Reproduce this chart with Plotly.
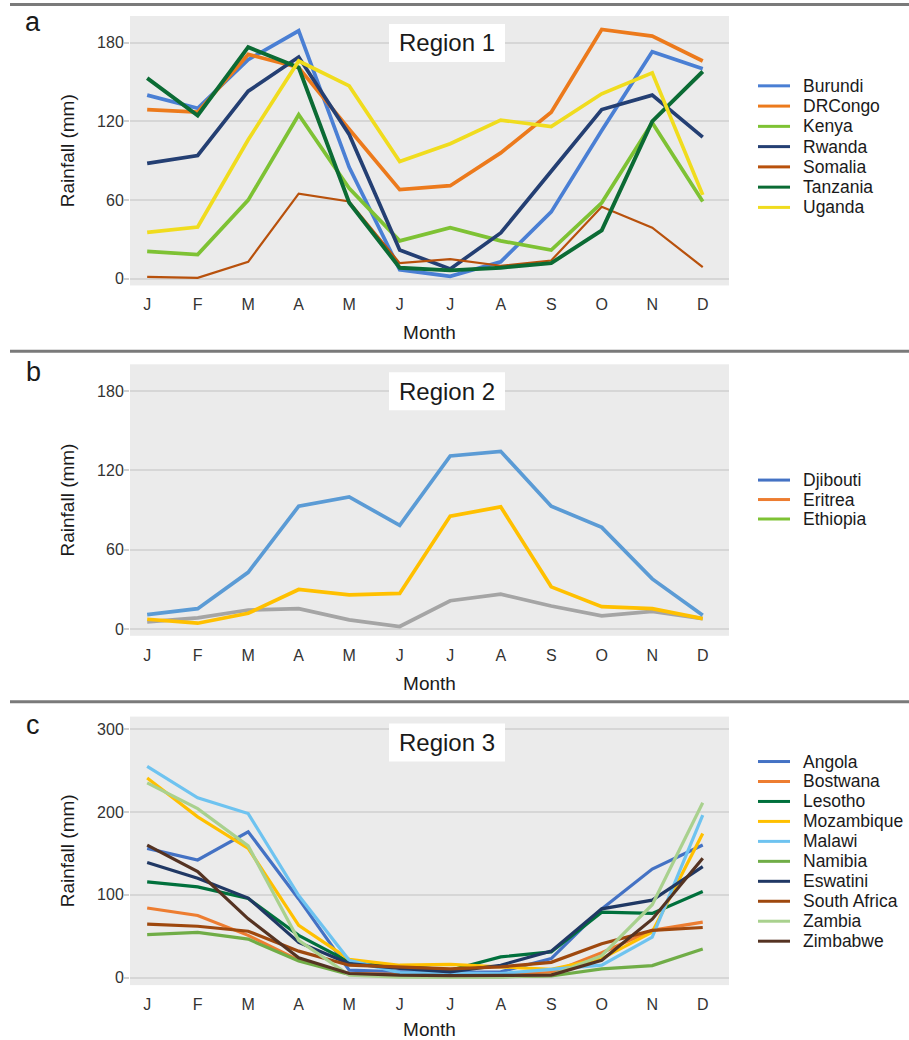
import plotly.graph_objects as go

W, H = 909, 1040

months = list(range(1, 13))
month_labels = ["J", "F", "M", "A", "M", "J", "J", "A", "S", "O", "N", "D"]

# ---- Region 1 (panel a) ----
r1_countries = ["Burundi", "DRCongo", "Kenya", "Rwanda", "Somalia", "Tanzania", "Uganda"]
r1_colors = ["#4a7fd4", "#ec7a1c", "#7ec234", "#243f73", "#b8510c", "#0b6b34", "#f0dc1e"]
burundi = [140, 130, 167, 189, 85, 7, 2, 13, 51, 113, 173, 160]
drcongo = [129, 127, 171, 161, 114, 68, 71, 96, 127, 190, 185, 166]
kenya = [21, 18.5, 60, 125, 69, 29, 39, 29, 22, 58, 119, 59]
rwanda = [88, 94, 143, 169, 110, 22, 7.5, 35, 82, 129, 140, 108]
somalia = [1.5, 0.8, 13, 65, 59, 12, 15, 10, 14, 55, 39, 9]
tanzania = [153, 124.5, 176.5, 161, 58, 8.5, 6.5, 8.5, 12, 37, 120, 158]
uganda = [35.5, 39.5, 106, 166, 147, 89.5, 103, 121, 116, 141, 157, 64]
r1_values = [burundi, drcongo, kenya, rwanda, somalia, tanzania, uganda]
r1_widths = [3.7, 3.7, 3.7, 3.7, 2.2, 3.9, 3.7]

# ---- Region 2 (panel b) ----
r2_countries = ["Djibouti", "Eritrea", "Ethiopia"]
r2_legend_colors = ["#4472c4", "#ed7d31", "#7ec234"]
r2_line_colors = ["#5b9bd5", "#ffc000", "#a5a5a5"]
djibouti = [11, 15.5, 43, 93, 100, 78.5, 131, 134.5, 93, 77, 38, 10.5]
eritrea = [7.5, 4.5, 12, 30, 26, 27, 85.5, 92.5, 32, 17, 15.5, 8]
ethiopia = [5.5, 8.5, 14.5, 15.5, 7, 2, 21.5, 26.5, 17.5, 10, 13.5, 8]
r2_values = [djibouti, eritrea, ethiopia]

# ---- Region 3 (panel c) ----
r3_countries = ["Angola", "Bostwana", "Lesotho", "Mozambique", "Malawi", "Namibia",
                "Eswatini", "South Africa", "Zambia", "Zimbabwe"]
r3_colors = ["#4472c4", "#ed7d31", "#00703c", "#ffc000", "#6ec3f0", "#70ad47",
             "#203864", "#9e480e", "#a9d18e", "#553322"]
angola = [156, 142, 176, 95, 9, 7, 6, 7, 23, 83, 131, 160]
bostwana = [84, 75, 51, 21, 5, 4, 3, 4, 6, 30, 57, 67]
lesotho = [115.5, 109.5, 95.5, 51, 19, 14, 9, 25, 31, 79, 77.5, 104]
mozambique = [241, 194, 156, 63, 22, 15, 16, 13, 10, 23, 55, 174]
malawi = [255, 217, 198, 99, 21, 6, 5.5, 5, 10, 15, 49, 196]
namibia = [52, 54.5, 46.5, 20, 4, 1.5, 1, 1, 2, 10.5, 14.5, 34.5]
eswatini = [139, 120, 96, 42.5, 17, 11, 7, 15, 32, 83, 93.5, 134]
south_africa = [64.5, 62, 56, 32, 15, 13, 10.5, 13, 18.5, 41, 57, 60.5]
zambia = [235, 204, 159, 45, 3, 0.5, 0.5, 1, 3, 26.5, 88, 211]
zimbabwe = [160, 128, 71, 24, 5, 3, 2.5, 2.5, 3, 21, 70.5, 144]
r3_values = [angola, bostwana, lesotho, mozambique, malawi, namibia,
             eswatini, south_africa, zambia, zimbabwe]

region_titles = ["Region 1", "Region 2", "Region 3"]
panel_letters = ["a", "b", "c"]
y_ticks_ab = [0, 60, 120, 180]
y_ticks_c = [0, 100, 200, 300]

FONT = "Liberation Sans, Arial, Helvetica, sans-serif"

fig = go.Figure()

for name, vals, col, w in zip(r1_countries, r1_values, r1_colors, r1_widths):
    fig.add_trace(go.Scatter(x=months, y=vals, mode="lines", name=name,
                             line=dict(color=col, width=w), showlegend=False,
                             xaxis="x", yaxis="y"))

for name, vals, col in list(zip(r2_countries, r2_values, r2_line_colors))[::-1]:
    fig.add_trace(go.Scatter(x=months, y=vals, mode="lines", name=name,
                             line=dict(color=col, width=3.7), showlegend=False,
                             xaxis="x2", yaxis="y2"))

for name, vals, col in zip(r3_countries, r3_values, r3_colors):
    fig.add_trace(go.Scatter(x=months, y=vals, mode="lines", name=name,
                             line=dict(color=col, width=3.2), showlegend=False,
                             xaxis="x3", yaxis="y3"))

# panel geometry in pixels (top, bottom)
panels = [(16, 286), (365, 637), (718, 987)]
x_dom = [130 / W, 729 / W]

def ydom(t, b):
    return [1 - b / H, 1 - t / H]

def xaxis_cfg(anchor):
    return dict(domain=x_dom, anchor=anchor, range=[0.66, 12.52],
                tickvals=months, ticktext=month_labels, showgrid=False,
                zeroline=False, ticks="", ticklabelstandoff=8,
                tickfont=dict(size=16, color="#333333", family=FONT),
                title=dict(text="Month", font=dict(size=19, color="#1a1a1a", family=FONT),
                           standoff=13),
                showline=False, fixedrange=True)

def yaxis_cfg(anchor, dom, rng, ticks):
    return dict(domain=dom, anchor=anchor, range=rng, tickvals=ticks,
                showgrid=True, gridcolor="#d6d6d6", gridwidth=1.5, zeroline=False,
                ticks="outside", ticklen=5, tickwidth=1.5, tickcolor="#d0d0d0",
                ticklabelstandoff=-3,
                tickfont=dict(size=16, color="#333333", family=FONT),
                title=dict(text="Rainfall (mm)", font=dict(size=19, color="#1a1a1a", family=FONT),
                           standoff=17),
                showline=False, fixedrange=True)

fig.update_layout(
    width=W, height=H, autosize=False,
    margin=dict(l=0, r=0, t=0, b=0),
    paper_bgcolor="white", plot_bgcolor="#ebebeb",
    font=dict(family=FONT),
    xaxis=xaxis_cfg("y"),
    xaxis2=xaxis_cfg("y2"),
    xaxis3=xaxis_cfg("y3"),
    yaxis=yaxis_cfg("x", ydom(*panels[0]), [-5, 200.3], y_ticks_ab),
    yaxis2=yaxis_cfg("x2", ydom(*panels[1]), [-5, 200.3], y_ticks_ab),
    yaxis3=yaxis_cfg("x3", ydom(*panels[2]), [-9, 315], y_ticks_c),
    showlegend=False,
)

# divider lines
for ypx in [4.5, 352, 703]:
    fig.add_shape(type="line", xref="paper", yref="paper",
                  x0=10 / W, x1=1, y0=1 - ypx / H, y1=1 - ypx / H,
                  line=dict(color="#7a7a7a", width=3))

# region titles (white boxes) and panel letters
title_boxes = [(24, 62), (373, 411), (725, 763)]
letter_centers = [22, 373, 726]
for title, letter, (bt, bb), lc in zip(region_titles, panel_letters, title_boxes, letter_centers):
    fig.add_shape(type="rect", xref="paper", yref="paper", layer="above",
                  x0=389 / W, x1=505 / W, y0=1 - bb / H, y1=1 - bt / H,
                  fillcolor="white", line=dict(width=0))
    fig.add_annotation(text=title, xref="paper", yref="paper", x=447 / W,
                       y=1 - (bt + bb) / 2 / H, xanchor="center", yanchor="middle",
                       showarrow=False, font=dict(size=24, color="#1a1a1a", family=FONT))
    fig.add_annotation(text=letter, xref="paper", yref="paper", x=33 / W, y=1 - lc / H,
                       xanchor="center", yanchor="middle", showarrow=False,
                       font=dict(size=27, color="#1a1a1a", family=FONT))

# legends (keys drawn as short lines with text labels)
legend_specs = [
    (r1_countries, r1_colors, 86, 20.3),
    (r2_countries, r2_legend_colors, 481, 19.5),
    (r3_countries, r3_colors, 763, 20.0),
]
for names, cols, y0px, step in legend_specs:
    for i, (nm, col) in enumerate(zip(names, cols)):
        ypx = y0px + i * step
        fig.add_shape(type="line", xref="paper", yref="paper",
                      x0=758 / W, x1=790 / W, y0=1 - ypx / H, y1=1 - ypx / H,
                      line=dict(color=col, width=3))
        fig.add_annotation(text=nm, xref="paper", yref="paper", x=801 / W, y=1 - ypx / H,
                           xanchor="left", yanchor="middle", showarrow=False,
                           font=dict(size=17.5, color="#1a1a1a", family=FONT))

fig.write_html("out.html", config={"displayModeBar": False},
               post_script="document.body.style.margin='0px';")
